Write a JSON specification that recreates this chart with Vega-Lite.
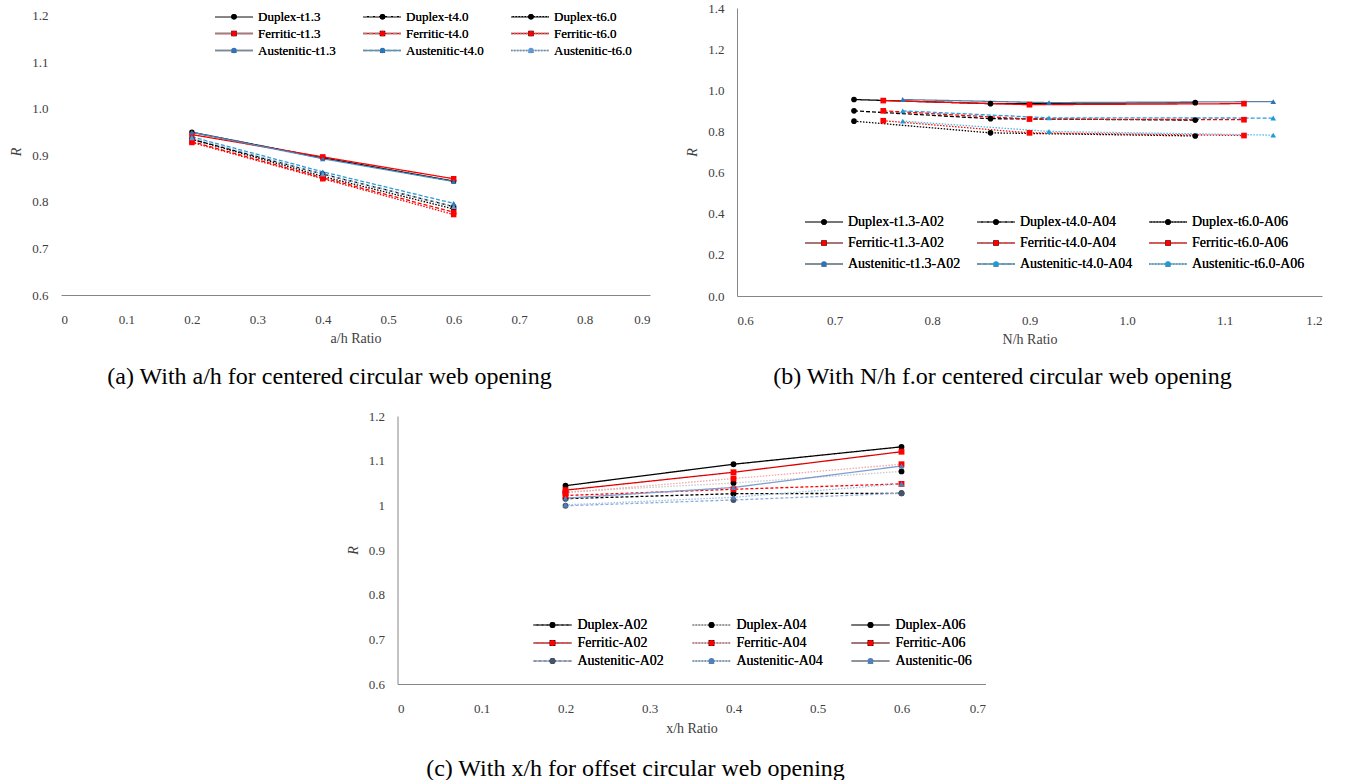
{
  "$schema": "https://vega.github.io/schema/vega-lite/v6.json",
  "background": "white",
  "padding": {"top": 2, "left": 9, "right": 5, "bottom": 2},
  "config": {
    "font": "Liberation Serif",
    "view": {"stroke": null},
    "style": {"guide-label": {"font": "Liberation Serif"}, "guide-title": {"font": "Liberation Serif"}},
    "axis": {"domainColor": "#868686", "domainWidth": 1, "ticks": false, "tickSize": 0, "grid": false, "labelFont": "Liberation Serif", "labelFontSize": 13, "labelColor": "#404040", "titleFont": "Liberation Serif", "titleFontSize": 14, "titleFontWeight": "normal", "titleColor": "#404040"},
    "axisX": {"labelPadding": 18, "titlePadding": 5},
    "axisY": {"labelPadding": 13, "titlePadding": 8, "titleFontStyle": "italic"},
    "legend": {"labelFont": "Liberation Serif", "labelFontWeight": "normal", "labelColor": "#000000", "labelLimit": 0, "gridAlign": "each"},
    "title": {"font": "Liberation Serif", "fontSize": 24, "fontWeight": "normal", "color": "#000000"}
  },
  "datasets": {
    "A": [
      {"s": "Duplex-t1.3", "m": "Duplex-t1.3", "x": 0.2, "R": 0.95},
      {"s": "Duplex-t1.3", "m": "Duplex-t1.3", "x": 0.4, "R": 0.895},
      {"s": "Duplex-t1.3", "m": "Duplex-t1.3", "x": 0.6, "R": 0.845},
      {"s": "Duplex-t4.0", "m": "Duplex-t4.0", "x": 0.2, "R": 0.935},
      {"s": "Duplex-t4.0", "m": "Duplex-t4.0", "x": 0.4, "R": 0.86},
      {"s": "Duplex-t4.0", "m": "Duplex-t4.0", "x": 0.6, "R": 0.79},
      {"s": "Duplex-t6.0", "m": "Duplex-t6.0", "x": 0.2, "R": 0.935},
      {"s": "Duplex-t6.0", "m": "Duplex-t6.0", "x": 0.4, "R": 0.855},
      {"s": "Duplex-t6.0", "m": "Duplex-t6.0", "x": 0.6, "R": 0.785},
      {"s": "Ferritic-t1.3", "m": "Ferritic-t1.3", "x": 0.2, "R": 0.945},
      {"s": "Ferritic-t1.3", "m": "Ferritic-t1.3", "x": 0.4, "R": 0.897},
      {"s": "Ferritic-t1.3", "m": "Ferritic-t1.3", "x": 0.6, "R": 0.85},
      {"s": "Ferritic-t4.0", "m": "Ferritic-t4.0", "x": 0.2, "R": 0.93},
      {"s": "Ferritic-t4.0", "m": "Ferritic-t4.0", "x": 0.4, "R": 0.852},
      {"s": "Ferritic-t4.0", "m": "Ferritic-t4.0", "x": 0.6, "R": 0.778},
      {"s": "Ferritic-t6.0", "m": "Ferritic-t6.0", "x": 0.2, "R": 0.928},
      {"s": "Ferritic-t6.0", "m": "Ferritic-t6.0", "x": 0.4, "R": 0.85},
      {"s": "Ferritic-t6.0", "m": "Ferritic-t6.0", "x": 0.6, "R": 0.773},
      {"s": "Austenitic-t1.3", "m": "Austenitic-t1.3", "x": 0.2, "R": 0.95},
      {"s": "Austenitic-t1.3", "m": "Austenitic-t1.3", "x": 0.4, "R": 0.893},
      {"s": "Austenitic-t1.3", "m": "Austenitic-t1.3", "x": 0.6, "R": 0.844},
      {"s": "Austenitic-t4.0", "m": "Austenitic-t4.0", "x": 0.2, "R": 0.94},
      {"s": "Austenitic-t4.0", "m": "Austenitic-t4.0", "x": 0.4, "R": 0.865},
      {"s": "Austenitic-t4.0", "m": "Austenitic-t4.0", "x": 0.6, "R": 0.797},
      {"s": "Austenitic-t6.0", "m": "Austenitic-t6.0", "x": 0.2, "R": 0.938},
      {"s": "Austenitic-t6.0", "m": "Austenitic-t6.0", "x": 0.4, "R": 0.86},
      {"s": "Austenitic-t6.0", "m": "Austenitic-t6.0", "x": 0.6, "R": 0.79}
    ],
    "B": [
      {"s": "Duplex-t1.3-A02", "m": "Duplex-t1.3-A02", "x": 0.72, "R": 0.955},
      {"s": "Duplex-t1.3-A02", "m": "Duplex-t1.3-A02", "x": 0.86, "R": 0.935},
      {"s": "Duplex-t1.3-A02", "m": "Duplex-t1.3-A02", "x": 1.07, "R": 0.94},
      {"s": "Duplex-t4.0-A04", "m": "Duplex-t4.0-A04", "x": 0.72, "R": 0.9},
      {"s": "Duplex-t4.0-A04", "m": "Duplex-t4.0-A04", "x": 0.86, "R": 0.862},
      {"s": "Duplex-t4.0-A04", "m": "Duplex-t4.0-A04", "x": 1.07, "R": 0.855},
      {"s": "Duplex-t6.0-A06", "m": "Duplex-t6.0-A06", "x": 0.72, "R": 0.85},
      {"s": "Duplex-t6.0-A06", "m": "Duplex-t6.0-A06", "x": 0.86, "R": 0.793},
      {"s": "Duplex-t6.0-A06", "m": "Duplex-t6.0-A06", "x": 1.07, "R": 0.778},
      {"s": "Ferritic-t1.3-A02", "m": "Ferritic-t1.3-A02", "x": 0.75, "R": 0.95},
      {"s": "Ferritic-t1.3-A02", "m": "Ferritic-t1.3-A02", "x": 0.9, "R": 0.93},
      {"s": "Ferritic-t1.3-A02", "m": "Ferritic-t1.3-A02", "x": 1.12, "R": 0.935},
      {"s": "Ferritic-t4.0-A04", "m": "Ferritic-t4.0-A04", "x": 0.75, "R": 0.9},
      {"s": "Ferritic-t4.0-A04", "m": "Ferritic-t4.0-A04", "x": 0.9, "R": 0.86},
      {"s": "Ferritic-t4.0-A04", "m": "Ferritic-t4.0-A04", "x": 1.12, "R": 0.857},
      {"s": "Ferritic-t6.0-A06", "m": "Ferritic-t6.0-A06", "x": 0.75, "R": 0.852},
      {"s": "Ferritic-t6.0-A06", "m": "Ferritic-t6.0-A06", "x": 0.9, "R": 0.793},
      {"s": "Ferritic-t6.0-A06", "m": "Ferritic-t6.0-A06", "x": 1.12, "R": 0.78},
      {"s": "Austenitic-t1.3-A02", "m": "Austenitic-t1.3-A02", "x": 0.77, "R": 0.955},
      {"s": "Austenitic-t1.3-A02", "m": "Austenitic-t1.3-A02", "x": 0.92, "R": 0.94},
      {"s": "Austenitic-t1.3-A02", "m": "Austenitic-t1.3-A02", "x": 1.15, "R": 0.945},
      {"s": "Austenitic-t4.0-A04", "m": "Austenitic-t4.0-A04", "x": 0.77, "R": 0.9},
      {"s": "Austenitic-t4.0-A04", "m": "Austenitic-t4.0-A04", "x": 0.92, "R": 0.866},
      {"s": "Austenitic-t4.0-A04", "m": "Austenitic-t4.0-A04", "x": 1.15, "R": 0.865},
      {"s": "Austenitic-t6.0-A06", "m": "Austenitic-t6.0-A06", "x": 0.77, "R": 0.85},
      {"s": "Austenitic-t6.0-A06", "m": "Austenitic-t6.0-A06", "x": 0.92, "R": 0.8},
      {"s": "Austenitic-t6.0-A06", "m": "Austenitic-t6.0-A06", "x": 1.15, "R": 0.782}
    ],
    "C": [
      {"s": "Duplex-A02", "m": "Duplex-A02", "x": 0.2, "R": 1.015},
      {"s": "Duplex-A02", "m": "Duplex-A02", "x": 0.4, "R": 1.026},
      {"s": "Duplex-A02", "m": "Duplex-A02", "x": 0.6, "R": 1.027},
      {"s": "Duplex-A04", "m": "Duplex-A04", "x": 0.2, "R": 1.03},
      {"s": "Duplex-A04", "m": "Duplex-A04", "x": 0.4, "R": 1.05},
      {"s": "Duplex-A04", "m": "Duplex-A04", "x": 0.6, "R": 1.076},
      {"s": "Duplex-A06", "m": "Duplex-A06", "x": 0.2, "R": 1.044},
      {"s": "Duplex-A06", "m": "Duplex-A06", "x": 0.4, "R": 1.092},
      {"s": "Duplex-A06", "m": "Duplex-A06", "x": 0.6, "R": 1.131},
      {"s": "Ferritic-A02", "m": "Ferritic-A02", "x": 0.2, "R": 1.022},
      {"s": "Ferritic-A02", "m": "Ferritic-A02", "x": 0.4, "R": 1.036},
      {"s": "Ferritic-A02", "m": "Ferritic-A02", "x": 0.6, "R": 1.048},
      {"s": "Ferritic-A04", "m": "Ferritic-A04", "x": 0.2, "R": 1.028},
      {"s": "Ferritic-A04", "m": "Ferritic-A04", "x": 0.4, "R": 1.06},
      {"s": "Ferritic-A04", "m": "Ferritic-A04", "x": 0.6, "R": 1.092},
      {"s": "Ferritic-A06", "m": "Ferritic-A06", "x": 0.2, "R": 1.034},
      {"s": "Ferritic-A06", "m": "Ferritic-A06", "x": 0.4, "R": 1.074},
      {"s": "Ferritic-A06", "m": "Ferritic-A06", "x": 0.6, "R": 1.12},
      {"s": "Austenitic-A02", "m": "Austenitic-A02", "x": 0.2, "R": 0.999},
      {"s": "Austenitic-A02", "m": "Austenitic-A02", "x": 0.4, "R": 1.012},
      {"s": "Austenitic-A02", "m": "Austenitic-A02", "x": 0.6, "R": 1.027},
      {"s": "Austenitic-A04", "m": "Austenitic-A04", "x": 0.2, "R": 1.001},
      {"s": "Austenitic-A04", "m": "Austenitic-A04", "x": 0.4, "R": 1.018},
      {"s": "Austenitic-A04", "m": "Austenitic-A04", "x": 0.6, "R": 1.048},
      {"s": "Austenitic-06", "m": "Austenitic-06", "x": 0.2, "R": 1.016},
      {"s": "Austenitic-06", "m": "Austenitic-06", "x": 0.4, "R": 1.04},
      {"s": "Austenitic-06", "m": "Austenitic-06", "x": 0.6, "R": 1.088}
    ]
  },
  "center": true,
  "spacing": 21,
  "resolve": {
    "scale": {"stroke": "independent", "strokeDash": "independent", "fill": "independent", "shape": "independent"},
    "legend": {"stroke": "independent", "strokeDash": "independent", "fill": "independent", "shape": "independent"}
  },
  "vconcat": [
    {
      "spacing": 35,
      "resolve": {
        "scale": {"stroke": "independent", "strokeDash": "independent", "fill": "independent", "shape": "independent"},
        "legend": {"stroke": "independent", "strokeDash": "independent", "fill": "independent", "shape": "independent"}
      },
      "hconcat": [
        {
          "width": 589,
          "height": 287,
          "data": {"name": "A"},
          "title": {"text": "(a) With a/h for centered circular web opening", "orient": "bottom", "anchor": "middle", "frame": "group", "dx": -26, "offset": 20},
          "encoding": {
            "x": {"field": "x", "type": "quantitative", "scale": {"domain": [0, 0.9], "nice": false}, "axis": {"values": [0, 0.1, 0.2, 0.3, 0.4, 0.5, 0.6, 0.7, 0.8, 0.9], "format": ".1~f", "title": "a/h Ratio"}},
            "y": {"field": "R", "type": "quantitative", "scale": {"domain": [0.6, 1.2172], "nice": false, "zero": false}, "axis": {"values": [0.6, 0.7, 0.8, 0.9, 1.0, 1.1, 1.2], "format": ".1f", "title": "R", "domain": false}}
          },
          "layer": [
            {
              "data": {"values": [{}]},
              "mark": {"type": "rule", "color": "#868686", "strokeWidth": 1},
              "encoding": {"x": {"datum": 0}, "y": {"datum": 0.6}, "y2": {"datum": 1.2}}
            },
            {
              "mark": {"type": "line", "strokeWidth": 1.3},
              "encoding": {
                "stroke": {"field": "s", "type": "nominal", "sort": ["Duplex-t1.3","Ferritic-t1.3","Austenitic-t1.3","Duplex-t4.0","Ferritic-t4.0","Austenitic-t4.0","Duplex-t6.0","Ferritic-t6.0","Austenitic-t6.0"],
                  "scale": {"range": ["#000000","#ff0000","#4a8cc2","#000000","#ff0000","#2e9bd6","#000000","#ff0000","#9dc3e6"]},
                  "legend": {"orient": "none", "legendX": 153, "legendY": 2, "padding": 0, "columns": 3, "columnPadding": 26, "rowPadding": 3, "symbolType": "stroke", "symbolSize": 1444, "symbolStrokeWidth": 1.3, "clipHeight": 13, "labelFontSize": 13, "labelOffset": 4, "title": null}},
                "strokeDash": {"field": "s", "type": "nominal", "sort": ["Duplex-t1.3","Ferritic-t1.3","Austenitic-t1.3","Duplex-t4.0","Ferritic-t4.0","Austenitic-t4.0","Duplex-t6.0","Ferritic-t6.0","Austenitic-t6.0"],
                  "scale": {"range": [[1,0],[1,0],[1,0],[4,2],[4,2],[4,2],[1.5,1.5],[1.5,1.5],[1.5,1.5]]},
                  "legend": {"orient": "none", "legendX": 153, "legendY": 2, "padding": 0, "columns": 3, "columnPadding": 26, "rowPadding": 3, "symbolType": "stroke", "symbolSize": 1444, "symbolStrokeWidth": 1.3, "clipHeight": 13, "labelFontSize": 13, "labelOffset": 4, "title": null}}
              }
            },
            {
              "mark": {"type": "point", "filled": true, "opacity": 1, "strokeWidth": 0, "size": 30},
              "encoding": {
                "fill": {"field": "m", "type": "nominal", "sort": ["Duplex-t1.3","Ferritic-t1.3","Austenitic-t1.3","Duplex-t4.0","Ferritic-t4.0","Austenitic-t4.0","Duplex-t6.0","Ferritic-t6.0","Austenitic-t6.0"],
                  "scale": {"range": ["#000000","#ff0000","#2e75b6","#000000","#ff0000","#2e75b6","#000000","#ff0000","#5b9bd5"]},
                  "legend": {"orient": "none", "legendX": 153, "legendY": 2, "padding": 0, "columns": 3, "columnPadding": 12.5, "rowPadding": 3, "symbolSize": 30, "symbolStrokeWidth": 0, "symbolOffset": 13.5, "clipHeight": 13, "labelFontSize": 13, "labelOffset": 31, "labelOpacity": 0, "labelColor": "rgba(0,0,0,0)", "title": null}},
                "shape": {"field": "m", "type": "nominal", "sort": ["Duplex-t1.3","Ferritic-t1.3","Austenitic-t1.3","Duplex-t4.0","Ferritic-t4.0","Austenitic-t4.0","Duplex-t6.0","Ferritic-t6.0","Austenitic-t6.0"],
                  "scale": {"range": ["circle","square","triangle-up","circle","square","triangle-up","circle","square","triangle-up"]},
                  "legend": {"orient": "none", "legendX": 153, "legendY": 2, "padding": 0, "columns": 3, "columnPadding": 12.5, "rowPadding": 3, "symbolSize": 30, "symbolStrokeWidth": 0, "symbolOffset": 13.5, "clipHeight": 13, "labelFontSize": 13, "labelOffset": 31, "labelOpacity": 0, "labelColor": "rgba(0,0,0,0)", "title": null}}
              }
            }
          ]
        },
        {
          "width": 585,
          "height": 288,
          "data": {"name": "B"},
          "title": {"text": "(b) With N/h f.or centered circular web opening", "orient": "bottom", "anchor": "middle", "frame": "group", "dx": -27, "offset": 19},
          "encoding": {
            "x": {"field": "x", "type": "quantitative", "scale": {"domain": [0.6, 1.2], "nice": false, "zero": false}, "axis": {"values": [0.6, 0.7, 0.8, 0.9, 1.0, 1.1, 1.2], "format": ".1f", "title": "N/h Ratio"}},
            "y": {"field": "R", "type": "quantitative", "scale": {"domain": [0, 1.4], "nice": false}, "axis": {"values": [0, 0.2, 0.4, 0.6, 0.8, 1.0, 1.2, 1.4], "format": ".1f", "title": "R"}}
          },
          "layer": [
            {
              "mark": {"type": "line", "strokeWidth": 1.3},
              "encoding": {
                "stroke": {"field": "s", "type": "nominal", "sort": ["Duplex-t1.3-A02","Ferritic-t1.3-A02","Austenitic-t1.3-A02","Duplex-t4.0-A04","Ferritic-t4.0-A04","Austenitic-t4.0-A04","Duplex-t6.0-A06","Ferritic-t6.0-A06","Austenitic-t6.0-A06"],
                  "scale": {"range": ["#000000","#ff0000","#5b7fa6","#000000","#ff0000","#1fa0e0","#000000","#ff0000","#4db8e8"]},
                  "legend": {"orient": "none", "legendX": 67, "legendY": 207, "padding": 0, "columns": 3, "columnPadding": 15, "rowPadding": 7, "symbolType": "stroke", "symbolSize": 1444, "symbolStrokeWidth": 1.3, "clipHeight": 14, "labelFontSize": 14, "labelOffset": 4, "title": null}},
                "strokeDash": {"field": "s", "type": "nominal", "sort": ["Duplex-t1.3-A02","Ferritic-t1.3-A02","Austenitic-t1.3-A02","Duplex-t4.0-A04","Ferritic-t4.0-A04","Austenitic-t4.0-A04","Duplex-t6.0-A06","Ferritic-t6.0-A06","Austenitic-t6.0-A06"],
                  "scale": {"range": [[1,0],[1,0],[1,0],[4,2],[4,2],[4,2],[1.5,1.5],[1.5,1.5],[1.5,1.5]]},
                  "legend": {"orient": "none", "legendX": 67, "legendY": 207, "padding": 0, "columns": 3, "columnPadding": 15, "rowPadding": 7, "symbolType": "stroke", "symbolSize": 1444, "symbolStrokeWidth": 1.3, "clipHeight": 14, "labelFontSize": 14, "labelOffset": 4, "title": null}}
              }
            },
            {
              "mark": {"type": "point", "filled": true, "opacity": 1, "strokeWidth": 0, "size": 32},
              "encoding": {
                "fill": {"field": "m", "type": "nominal", "sort": ["Duplex-t1.3-A02","Ferritic-t1.3-A02","Austenitic-t1.3-A02","Duplex-t4.0-A04","Ferritic-t4.0-A04","Austenitic-t4.0-A04","Duplex-t6.0-A06","Ferritic-t6.0-A06","Austenitic-t6.0-A06"],
                  "scale": {"range": ["#000000","#ff0000","#2e75b6","#000000","#ff0000","#1f9ad6","#000000","#ff0000","#1f9ad6"]},
                  "legend": {"orient": "none", "legendX": 67, "legendY": 207, "padding": 0, "columns": 3, "columnPadding": 2, "rowPadding": 7, "symbolSize": 32, "symbolStrokeWidth": 0, "symbolOffset": 13, "clipHeight": 14, "labelFontSize": 14, "labelOffset": 30, "labelOpacity": 0, "labelColor": "rgba(0,0,0,0)", "title": null}},
                "shape": {"field": "m", "type": "nominal", "sort": ["Duplex-t1.3-A02","Ferritic-t1.3-A02","Austenitic-t1.3-A02","Duplex-t4.0-A04","Ferritic-t4.0-A04","Austenitic-t4.0-A04","Duplex-t6.0-A06","Ferritic-t6.0-A06","Austenitic-t6.0-A06"],
                  "scale": {"range": ["circle","square","triangle-up","circle","square","triangle-up","circle","square","triangle-up"]},
                  "legend": {"orient": "none", "legendX": 67, "legendY": 207, "padding": 0, "columns": 3, "columnPadding": 2, "rowPadding": 7, "symbolSize": 32, "symbolStrokeWidth": 0, "symbolOffset": 13, "clipHeight": 14, "labelFontSize": 14, "labelOffset": 30, "labelOpacity": 0, "labelColor": "rgba(0,0,0,0)", "title": null}}
              }
            }
          ]
        }
      ]
    },
    {
      "width": 588,
      "height": 268,
      "data": {"name": "C"},
      "title": {"text": "(c) With x/h for offset circular web opening", "orient": "bottom", "anchor": "middle", "frame": "group", "dx": -56, "offset": 22},
      "encoding": {
        "x": {"field": "x", "type": "quantitative", "scale": {"domain": [0, 0.7], "nice": false}, "axis": {"values": [0, 0.1, 0.2, 0.3, 0.4, 0.5, 0.6, 0.7], "format": ".1~f", "title": "x/h Ratio", "titlePadding": 6}},
        "y": {"field": "R", "type": "quantitative", "scale": {"domain": [0.6, 1.2], "nice": false, "zero": false}, "axis": {"values": [0.6, 0.7, 0.8, 0.9, 1.0, 1.1, 1.2], "format": ".1~f", "title": "R"}}
      },
      "layer": [
        {
          "mark": {"type": "line", "strokeWidth": 1.3},
          "encoding": {
            "stroke": {"field": "s", "type": "nominal", "sort": ["Duplex-A02","Ferritic-A02","Austenitic-A02","Duplex-A04","Ferritic-A04","Austenitic-A04","Duplex-A06","Ferritic-A06","Austenitic-06"],
              "scale": {"range": ["#000000","#ff0000","#8faadc","#c8c8c8","#f4a6a6","#9dc3e6","#000000","#e00000","#7f9fcf"]},
              "legend": {"orient": "none", "legendX": 135, "legendY": 202, "padding": 0, "columns": 3, "columnPadding": 27, "rowPadding": 4, "symbolType": "stroke", "symbolSize": 1444, "symbolStrokeWidth": 1.3, "clipHeight": 14, "labelFontSize": 14, "labelOffset": 5, "title": null}},
            "strokeDash": {"field": "s", "type": "nominal", "sort": ["Duplex-A02","Ferritic-A02","Austenitic-A02","Duplex-A04","Ferritic-A04","Austenitic-A04","Duplex-A06","Ferritic-A06","Austenitic-06"],
              "scale": {"range": [[3,2],[3,2],[3,2],[1.5,1.5],[1.5,1.5],[1.5,1.5],[1,0],[1,0],[1,0]]},
              "legend": {"orient": "none", "legendX": 135, "legendY": 202, "padding": 0, "columns": 3, "columnPadding": 27, "rowPadding": 4, "symbolType": "stroke", "symbolSize": 1444, "symbolStrokeWidth": 1.3, "clipHeight": 14, "labelFontSize": 14, "labelOffset": 5, "title": null}}
          }
        },
        {
          "mark": {"type": "point", "filled": true, "opacity": 1, "strokeWidth": 0, "size": 34},
          "encoding": {
            "fill": {"field": "m", "type": "nominal", "sort": ["Duplex-A02","Ferritic-A02","Austenitic-A02","Duplex-A04","Ferritic-A04","Austenitic-A04","Duplex-A06","Ferritic-A06","Austenitic-06"],
              "scale": {"range": ["#000000","#ff0000","#44546a","#000000","#ff0000","#4f81bd","#000000","#ff0000","#4f81bd"]},
              "legend": {"orient": "none", "legendX": 135, "legendY": 202, "padding": 0, "columns": 3, "columnPadding": 14, "rowPadding": 4, "symbolSize": 34, "symbolStrokeWidth": 0, "symbolOffset": 13, "clipHeight": 14, "labelFontSize": 14, "labelOffset": 31, "labelOpacity": 0, "labelColor": "rgba(0,0,0,0)", "title": null}},
            "shape": {"field": "m", "type": "nominal", "sort": ["Duplex-A02","Ferritic-A02","Austenitic-A02","Duplex-A04","Ferritic-A04","Austenitic-A04","Duplex-A06","Ferritic-A06","Austenitic-06"],
              "scale": {"range": ["circle","square","circle","circle","square","triangle-up","circle","square","triangle-up"]},
              "legend": {"orient": "none", "legendX": 135, "legendY": 202, "padding": 0, "columns": 3, "columnPadding": 14, "rowPadding": 4, "symbolSize": 34, "symbolStrokeWidth": 0, "symbolOffset": 13, "clipHeight": 14, "labelFontSize": 14, "labelOffset": 31, "labelOpacity": 0, "labelColor": "rgba(0,0,0,0)", "title": null}}
          }
        }
      ]
    }
  ]
}
